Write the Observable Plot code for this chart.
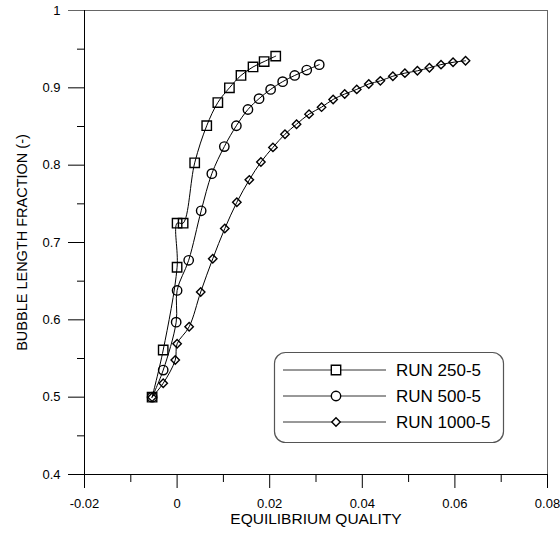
<!DOCTYPE html>
<html>
<head>
<meta charset="utf-8">
<script src="https://cdn.jsdelivr.net/npm/d3@7"></script>
<script src="https://cdn.jsdelivr.net/npm/@observablehq/plot@0.6"></script>
<style>
  html, body { margin: 0; padding: 0; background: white; }
  #chart { width: 560px; height: 533px; }
</style>
</head>
<body>
<div id="chart"></div>
<script>
// ---- Data ----
const seriesNames = ["RUN 250-5", "RUN 500-5", "RUN 1000-5"];

const xRun250 = [-0.0054, -0.0030, 0.0000, 0.0000, 0.0013, 0.0038, 0.0064, 0.0088, 0.0113, 0.0138, 0.0164, 0.0188, 0.0213];
const yRun250 = [0.500, 0.561, 0.668, 0.725, 0.725, 0.803, 0.851, 0.881, 0.900, 0.916, 0.927, 0.934, 0.941];

const xRun500 = [-0.0054, -0.0030, -0.0002, 0.0000, 0.0025, 0.0052, 0.0075, 0.0102, 0.0128, 0.0153, 0.0177, 0.0202, 0.0228, 0.0254, 0.0280, 0.0307];
const yRun500 = [0.500, 0.535, 0.597, 0.638, 0.677, 0.741, 0.789, 0.824, 0.851, 0.872, 0.886, 0.898, 0.908, 0.916, 0.923, 0.930];

const xRun1000 = [-0.0054, -0.0030, -0.0004, 0.0000, 0.0026, 0.0051, 0.0077, 0.0103, 0.0129, 0.0156, 0.0181, 0.0207, 0.0233, 0.0258, 0.0285, 0.0312, 0.0337, 0.0362, 0.0388, 0.0414, 0.0439, 0.0466, 0.0492, 0.0519, 0.0545, 0.0570, 0.0596, 0.0623];
const yRun1000 = [0.500, 0.518, 0.548, 0.569, 0.591, 0.636, 0.679, 0.718, 0.752, 0.781, 0.804, 0.823, 0.840, 0.853, 0.866, 0.875, 0.885, 0.892, 0.898, 0.905, 0.909, 0.915, 0.919, 0.922, 0.926, 0.930, 0.933, 0.935];

const xTicks = [-0.02, 0, 0.02, 0.04, 0.06, 0.08];
const xMinorTicks = [-0.01, 0.01, 0.03, 0.05, 0.07];
const yTicks = [0.4, 0.5, 0.6, 0.7, 0.8, 0.9];
const yTopTick = [1];
const yMinorTicks = [0.45, 0.55, 0.65, 0.75, 0.85, 0.95];

const xLabel = "EQUILIBRIUM QUALITY";
const yLabel = "BUBBLE LENGTH FRACTION (-)";

// ---- Build tables ----
const toRows = (xs, ys) => xs.map((x, i) => ({x, y: ys[i]}));
const run250 = toRows(xRun250, yRun250);
const run500 = toRows(xRun500, yRun500);
const run1000 = toRows(xRun1000, yRun1000);

const fmt = d => String(+d.toFixed(3));
const FONT = "'Liberation Sans', Arial, Helvetica, sans-serif";

const symbolSpecs = [
  {name: "square", r: 5.3},
  {name: "circle", r: 4.7},
  {name: "diamond2", r: 3.8}
];
const datasets = [run250, run500, run1000];

const marks = [
  // frame: top & right in gray, left & bottom in black
  Plot.ruleY([1], {stroke: "#666", strokeWidth: 1}),
  Plot.ruleX([0.08], {stroke: "#666", strokeWidth: 1}),
  Plot.ruleX([-0.02], {stroke: "black", strokeWidth: 1}),
  Plot.ruleY([0.4], {stroke: "black", strokeWidth: 1}),
  // axes
  Plot.axisX(xTicks, {tickSize: 14, tickPadding: 10, tickFormat: fmt, label: null, fontSize: 13}),
  Plot.axisX(xMinorTicks, {tickSize: 8, tickFormat: () => "", label: null}),
  Plot.axisY(yTicks, {tickSize: 16, tickPadding: 8, tickFormat: fmt, label: null, fontSize: 13}),
  Plot.axisY(yTopTick, {tickSize: 16, tickPadding: 8, tickFormat: fmt, label: null, fontSize: 13, stroke: "#666"}),
  Plot.axisY(yMinorTicks, {tickSize: 7, tickFormat: () => "", label: null}),
  // axis titles
  Plot.text([xLabel], {frameAnchor: "bottom", dy: 49, text: d => d, fontSize: 15.5, fill: "black"}),
  Plot.text([yLabel], {frameAnchor: "left", textAnchor: "middle", dx: -62, rotate: -90, text: d => d, fontSize: 14.5, fill: "black"})
];

datasets.forEach((data, i) => {
  marks.push(Plot.line(data, {x: "x", y: "y", curve: "catmull-rom", stroke: "black", strokeWidth: 1}));
  marks.push(Plot.dot(data, {x: "x", y: "y", symbol: () => symbolSpecs[i].name, r: symbolSpecs[i].r, stroke: "black", strokeWidth: 1.4, fill: "none"}));
});

const chart = Plot.plot({
  width: 560,
  height: 533,
  marginLeft: 84,
  marginRight: 13,
  marginTop: 10,
  marginBottom: 59,
  style: {fontFamily: FONT, fontSize: "13px", background: "white", color: "black", overflow: "visible"},
  x: {domain: [-0.02, 0.08], label: null},
  y: {domain: [0.4, 1], label: null},
  symbol: {type: "identity"},
  marks
});

document.getElementById("chart").appendChild(chart);

// ---- Legend (boxed, rounded) ----
const svg = d3.select(chart);
const lg = svg.append("g").attr("font-family", FONT).attr("text-anchor", "start");
lg.append("rect")
  .attr("x", 274.5).attr("y", 352.5).attr("width", 229).attr("height", 90)
  .attr("rx", 11).attr("ry", 11)
  .attr("fill", "white").attr("stroke", "#555").attr("stroke-width", 1.2);
const symFns = {square: d3.symbolSquare, circle: d3.symbolCircle, diamond2: d3.symbolDiamond2};
seriesNames.forEach((name, i) => {
  const yy = 370 + i * 26;
  lg.append("line").attr("x1", 283).attr("x2", 386).attr("y1", yy).attr("y2", yy)
    .attr("stroke", "#333").attr("stroke-width", 1);
  const spec = symbolSpecs[i];
  lg.append("path")
    .attr("d", d3.symbol(symFns[spec.name], Math.PI * spec.r * spec.r)())
    .attr("transform", `translate(336,${yy})`)
    .attr("fill", "white").attr("stroke", "black").attr("stroke-width", 1.4);
  lg.append("text").attr("x", 396).attr("y", yy).attr("dy", "0.36em")
    .attr("text-anchor", "start")
    .attr("font-size", 17).attr("fill", "black").text(name);
});
</script>
</body>
</html>
